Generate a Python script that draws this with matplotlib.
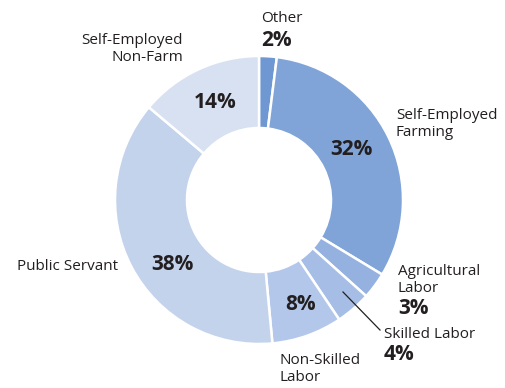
import matplotlib.pyplot as plt

plt.rcParams["font.family"] = ["Open Sans", "DejaVu Sans"]

# clockwise from 12 o'clock
categories = [
    "Other",
    "Self-Employed\nFarming",
    "Agricultural\nLabor",
    "Skilled Labor",
    "Non-Skilled\nLabor",
    "Public Servant",
    "Self-Employed\nNon-Farm",
]
shares = [2, 32, 3, 4, 8, 38, 14]
colors = ["#6f98d3", "#80a4d8", "#94b1e0", "#a6bde5", "#b3c7ea", "#c4d3ec", "#d8e1f2"]

W, H = 506, 388
fig = plt.figure(figsize=(W / 100, H / 100), dpi=100)
ax = fig.add_axes([0, 0, 1, 1])

cx, cy, r = 259, H - 200, 144
ax.pie(
    shares,
    colors=colors,
    startangle=90,
    counterclock=False,
    center=(cx, cy),
    radius=r,
    wedgeprops=dict(width=r * 0.5, edgecolor="white", linewidth=1.8),
)
ax.set_xlim(0, W)
ax.set_ylim(0, H)
ax.set_aspect("equal")
ax.axis("off")

txt = "#231f20"
name_fs = 11
pct_fs = 15
ls = 1.22


def y(py):
    return H - py


# category names
ax.text(261, y(18), categories[0], fontsize=name_fs, color=txt, ha="left", va="center")
ax.text(396, y(124), categories[1], fontsize=name_fs, color=txt, ha="left", va="center",
        linespacing=ls)
ax.text(398, y(280), categories[2], fontsize=name_fs, color=txt, ha="left", va="center",
        linespacing=ls)
ax.text(384, y(335), categories[3], fontsize=name_fs, color=txt, ha="left", va="center")
ax.text(280, y(369), categories[4], fontsize=name_fs, color=txt, ha="left", va="center",
        linespacing=ls)
ax.text(17, y(266), categories[5], fontsize=name_fs, color=txt, ha="left", va="center")
ax.text(183, y(49), categories[6], fontsize=name_fs, color=txt, ha="right", va="center",
        linespacing=ls, multialignment="right")

# percentages
bold = dict(fontsize=pct_fs, fontweight="bold", color=txt, va="center")
ax.text(261, y(40), f"{shares[0]}%", ha="left", **bold)
ax.text(351, y(150), f"{shares[1]}%", ha="center", **bold)
ax.text(398, y(309), f"{shares[2]}%", ha="left", **bold)
ax.text(384, y(355), f"{shares[3]}%", ha="left", **bold)
ax.text(301, y(305), f"{shares[4]}%", ha="center", **bold)
ax.text(172, y(265), f"{shares[5]}%", ha="center", **bold)
ax.text(215, y(103), f"{shares[6]}%", ha="center", **bold)

# leader line for Skilled Labor
ax.plot([343, 380], [y(292), y(330)], color=txt, linewidth=0.9)

fig.savefig("out.png", dpi=100)
